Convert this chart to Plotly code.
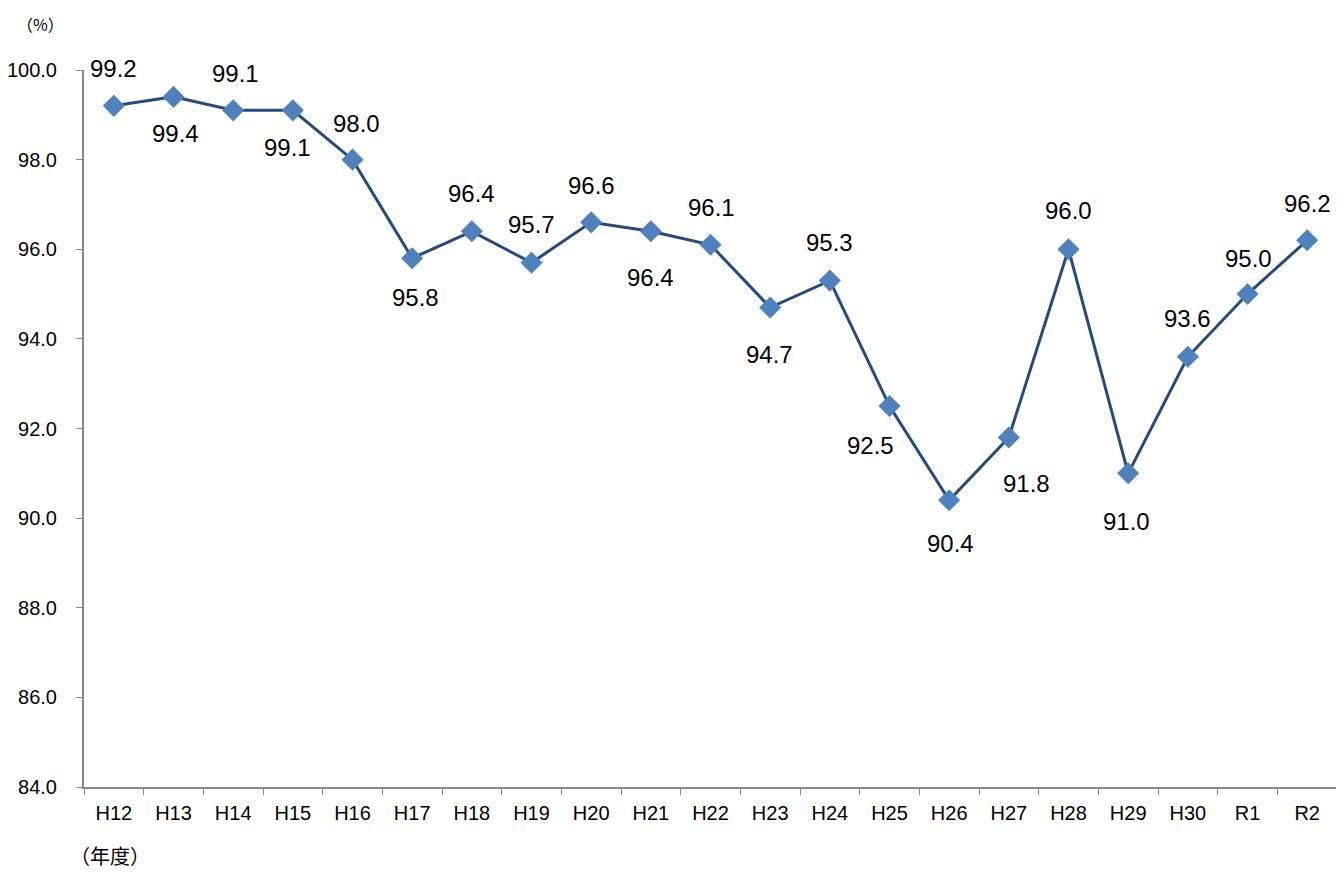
import plotly.graph_objects as go

# 年度
years = ["H12", "H13", "H14", "H15", "H16", "H17", "H18", "H19", "H20", "H21", "H22",
         "H23", "H24", "H25", "H26", "H27", "H28", "H29", "H30", "R1", "R2"]
rates = [99.2, 99.4, 99.1, 99.1, 98.0, 95.8, 96.4, 95.7, 96.6, 96.4, 96.1,
         94.7, 95.3, 92.5, 90.4, 91.8, 96.0, 91.0, 93.6, 95.0, 96.2]

# label placement: (xshift, yshift) in px
label_pos = [(0, 37), (2, -37), (2, 37), (-5, -37), (4, 36), (3, -39), (0, 38), (0, 38),
             (0, 37), (0, -46), (1, 37), (-1, -47), (0, 38), (-19, -39), (1, -43),
             (18, -46), (0, 39), (-2, -48), (0, 38), (1, 36), (0, 37)]

font_family = "Liberation Sans, Noto Sans CJK JP"

fig = go.Figure()
fig.add_trace(go.Scatter(
    x=years, y=rates, mode="lines+markers",
    line=dict(color="#254A80", width=3),
    marker=dict(symbol="diamond", size=17, color="#4F81BD"),
    hoverinfo="x+y",
))

for yr, v, (dx, dy) in zip(years, rates, label_pos):
    fig.add_annotation(x=yr, y=v, text=f"{v:.1f}", showarrow=False,
                       xshift=dx, yshift=dy,
                       font=dict(size=24, color="#000000", family=font_family))

fig.add_annotation(text="（%）", xref="paper", yref="paper", x=-0.035, y=1.064,
                   xanchor="center", yanchor="middle", showarrow=False,
                   font=dict(size=16, color="#000000", family="Noto Sans CJK JP"))
fig.add_annotation(text="（年度）", xref="paper", yref="paper", x=-0.013, y=-0.095,
                   xanchor="left", yanchor="middle", showarrow=False,
                   font=dict(size=20, color="#000000", family="Noto Sans CJK JP"))

# page body has an 8px margin, so shift margins to compensate
fig.update_layout(
    width=1344, height=880,
    margin=dict(l=76, r=15, t=62, b=101),
    paper_bgcolor="white", plot_bgcolor="white",
    showlegend=False,
    font=dict(family=font_family, color="#000000"),
)
fig.update_xaxes(
    type="category", range=[-0.5, len(years) - 0.5],
    tickson="boundaries", ticks="outside", ticklen=6, tickcolor="#888888",
    showline=True, linecolor="#888888", linewidth=2,
    showgrid=False, tickfont=dict(size=20), ticklabelstandoff=7,
    automargin=False,
)
fig.update_yaxes(
    range=[84, 100], dtick=2, tickformat=".1f",
    ticks="outside", ticklen=6, tickcolor="#888888",
    showline=True, linecolor="#888888", linewidth=2,
    showgrid=False, zeroline=False, tickfont=dict(size=20), ticklabelstandoff=15,
    automargin=False,
)

fig.write_html("out.html")
